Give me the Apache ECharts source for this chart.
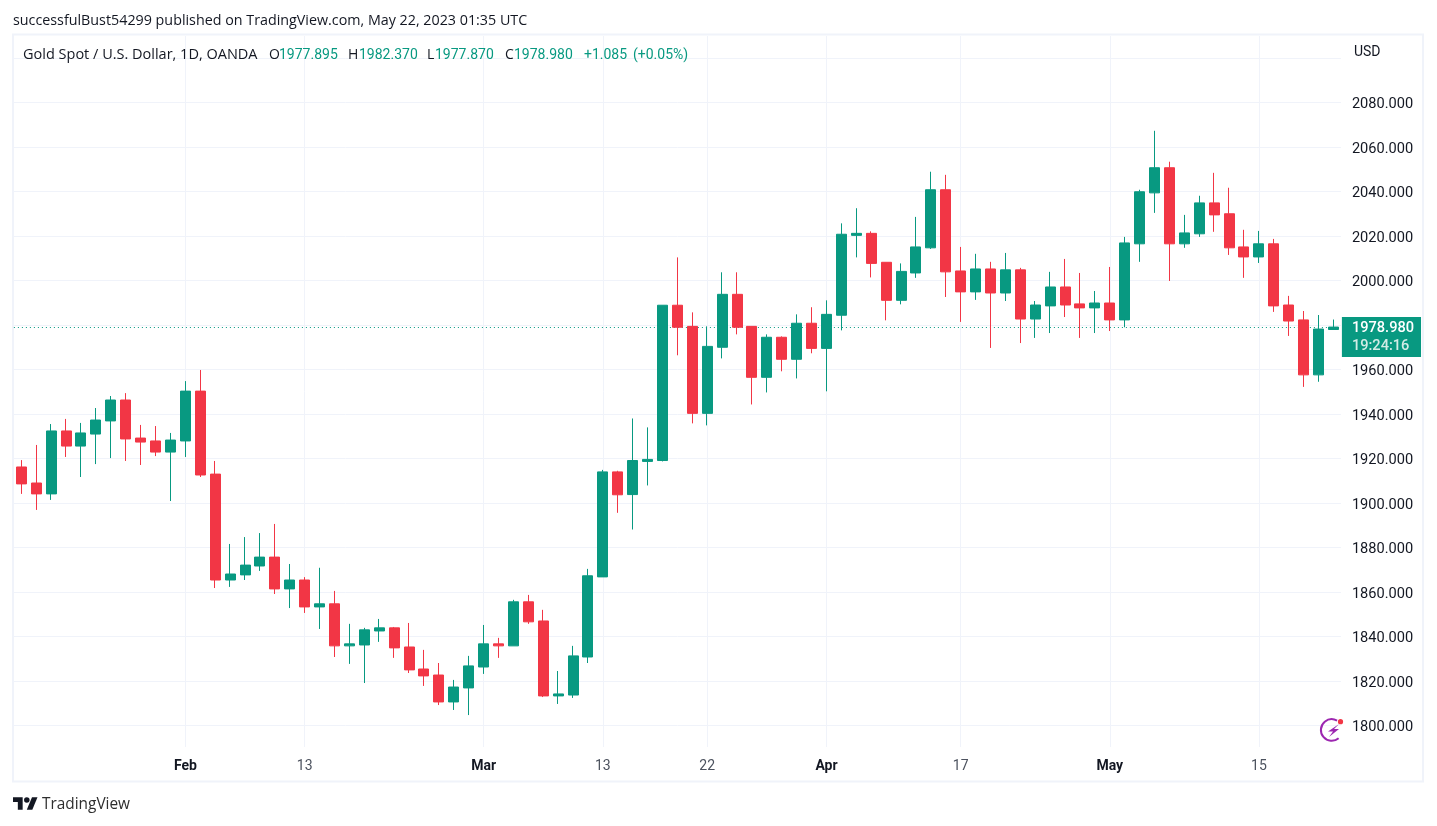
<!DOCTYPE html>
<html><head><meta charset="utf-8">
<style>html,body{margin:0;padding:0;background:#fff}#c{width:1437px;height:826px}</style>
<script src="https://cdn.jsdelivr.net/npm/echarts@6/dist/echarts.min.js"></script>
</head><body><div id="c"></div>
<script>
const categories = ['2023-01-17','2023-01-18','2023-01-19','2023-01-20','2023-01-23','2023-01-24','2023-01-25','2023-01-26','2023-01-27','2023-01-30','2023-01-31','2023-02-01','2023-02-02','2023-02-03','2023-02-06','2023-02-07','2023-02-08','2023-02-09','2023-02-10','2023-02-13','2023-02-14','2023-02-15','2023-02-16','2023-02-17','2023-02-20','2023-02-21','2023-02-22','2023-02-23','2023-02-24','2023-02-27','2023-02-28','2023-03-01','2023-03-02','2023-03-03','2023-03-06','2023-03-07','2023-03-08','2023-03-09','2023-03-10','2023-03-13','2023-03-14','2023-03-15','2023-03-16','2023-03-17','2023-03-20','2023-03-21','2023-03-22','2023-03-23','2023-03-24','2023-03-27','2023-03-28','2023-03-29','2023-03-30','2023-03-31','2023-04-03','2023-04-04','2023-04-05','2023-04-06','2023-04-10','2023-04-11','2023-04-12','2023-04-13','2023-04-14','2023-04-17','2023-04-18','2023-04-19','2023-04-20','2023-04-21','2023-04-24','2023-04-25','2023-04-26','2023-04-27','2023-04-28','2023-05-01','2023-05-02','2023-05-03','2023-05-04','2023-05-05','2023-05-08','2023-05-09','2023-05-10','2023-05-11','2023-05-12','2023-05-15','2023-05-16','2023-05-17','2023-05-18','2023-05-19','2023-05-22'];
const opens = [1916.1,1908.9,1904.0,1932.3,1925.5,1930.9,1936.8,1946.2,1929.1,1927.8,1922.8,1927.8,1950.2,1912.9,1865.3,1867.6,1871.6,1875.6,1861.3,1865.3,1853.2,1854.6,1835.7,1836.1,1842.4,1843.8,1835.2,1825.3,1822.6,1810.5,1816.8,1826.2,1836.6,1835.7,1855.5,1846.9,1813.2,1813.6,1830.7,1866.7,1913.9,1903.7,1918.6,1919.0,1988.8,1979.3,1940.2,1969.9,1993.7,1979.3,1956.4,1974.4,1964.5,1980.7,1969.4,1984.3,2020.2,2021.1,2008.1,1991.0,2003.3,2014.6,2040.7,2004.2,1994.8,2005.1,1994.3,2004.7,1982.6,1988.5,1997.0,1989.4,1987.6,1989.8,1982.2,2016.4,2039.3,2050.6,2016.4,2020.9,2034.8,2029.9,2015.0,2010.5,2016.4,1988.9,1982.2,1957.5,1977.895];
const closes = [1908.5,1904.0,1932.3,1925.5,1931.4,1937.2,1946.2,1928.7,1927.3,1922.8,1928.2,1950.2,1912.5,1865.3,1868.0,1872.0,1875.6,1861.3,1865.3,1853.2,1854.6,1835.7,1836.6,1842.9,1843.8,1834.8,1824.9,1822.2,1810.5,1817.2,1826.7,1836.6,1835.7,1855.5,1846.5,1813.2,1814.1,1831.2,1867.2,1913.9,1903.6,1919.0,1919.5,1988.8,1978.9,1940.2,1970.3,1993.7,1978.9,1956.4,1974.4,1964.5,1980.7,1969.4,1984.7,2020.7,2021.1,2007.6,1991.0,2004.0,2015.0,2040.7,2003.8,1994.8,2005.1,1994.3,2004.7,1982.6,1988.9,1997.0,1988.9,1987.6,1989.8,1982.2,2016.8,2039.8,2050.6,2016.4,2021.3,2034.8,2029.4,2014.6,2010.5,2016.4,1988.5,1981.7,1957.5,1978.1,1978.98];
const highs = [1919.2,1926.0,1935.4,1937.7,1935.9,1942.6,1948.0,1949.3,1935.0,1934.5,1931.4,1954.7,1959.7,1918.8,1881.5,1884.6,1886.4,1890.5,1872.5,1866.6,1870.8,1860.4,1845.6,1843.8,1847.8,1844.2,1846.0,1833.9,1828.0,1820.4,1831.2,1845.1,1839.3,1856.4,1858.6,1851.9,1824.4,1835.7,1870.3,1914.8,1914.4,1937.9,1933.9,1988.8,2010.3,1985.6,1979.3,2003.6,2003.6,1979.3,1975.7,1974.8,1984.7,1987.9,1991.0,2025.6,2032.4,2022.0,2008.1,2007.6,2028.5,2048.8,2047.4,2015.0,2011.9,2008.3,2012.3,2005.6,1990.7,2003.8,2009.6,2003.3,1995.2,2006.0,2019.5,2040.7,2067.2,2053.3,2029.4,2038.0,2048.3,2041.6,2022.7,2022.2,2018.6,1993.0,1986.2,1984.4,1982.37];
const lows = [1904.0,1896.8,1901.3,1920.6,1911.6,1917.4,1920.1,1918.8,1917.0,1921.0,1900.8,1920.6,1911.6,1861.7,1862.2,1865.3,1869.4,1859.0,1852.7,1850.5,1843.3,1830.7,1827.6,1819.0,1837.5,1830.3,1823.5,1817.7,1809.1,1806.9,1804.6,1823.1,1830.3,1835.7,1845.6,1812.7,1809.6,1812.3,1828.0,1866.7,1895.5,1888.0,1907.8,1918.6,1966.3,1935.7,1934.8,1964.9,1975.7,1944.2,1949.6,1959.1,1955.9,1967.2,1950.1,1977.5,2010.3,2001.3,1982.0,1989.2,2001.1,2014.1,1992.5,1981.3,1991.2,1969.6,1990.7,1971.8,1974.1,1976.3,1983.5,1974.1,1976.3,1977.2,1978.9,2008.3,2030.3,1999.7,2014.6,2019.5,2021.8,2011.4,2001.1,2007.8,1985.8,1975.0,1952.1,1954.4,1977.87];
const tickDates = ['2023-02-01','2023-02-13','2023-03-01','2023-03-13','2023-03-22','2023-04-03','2023-04-17','2023-05-01','2023-05-15'];
const tickTexts = ['Feb','13','Mar','13','22','Apr','17','May','15'];
const lastPrice = 1978.98;
const countdown = '19:24:16';
const publishedLine = 'successfulBust54299 published on TradingView.com, May 22, 2023 01:35 UTC';

const UP = '#089981', DOWN = '#f23645', GRID = '#f0f3fa', INK = '#131722';
const FONT = 'Roboto, sans-serif';
const TFONT = '"Open Sans", sans-serif';
const isTick = (v) => tickDates.indexOf(v) >= 0;

const legend = [
  ['Gold Spot / U.S. Dollar, 1D, OANDA', 23, INK, '14.5px '+TFONT],
  ['O', 269, INK, '14px '+TFONT], ['1977.895', 279, UP, '14px '+FONT],
  ['H', 348, INK, '14px '+TFONT], ['1982.370', 359, UP, '14px '+FONT],
  ['L', 427, INK, '14px '+TFONT], ['1977.870', 435, UP, '14px '+FONT],
  ['C', 505, INK, '14px '+TFONT], ['1978.980', 514, UP, '14px '+FONT],
  ['+1.085', 584, UP, '14px '+FONT], ['(+0.05%)', 633, UP, '14px '+FONT]
];

const chart = echarts.init(document.getElementById('c'), null, {renderer:'canvas'});
chart.setOption({
  animation:false,
  backgroundColor:'#ffffff',
  textStyle:{fontFamily:FONT},
  grid:{left:13.9,top:36,width:1327,height:711,containLabel:false},
  xAxis:{
    type:'category', data:categories, boundaryGap:true,
    axisLine:{show:false}, axisTick:{show:false},
    splitLine:{show:true,alignWithLabel:true,interval:(i,v)=>isTick(v),lineStyle:{color:GRID,width:1}},
    axisLabel:{
      interval:(i,v)=>isTick(v), margin:12, fontSize:14, color:'#4c525e', fontFamily:FONT,
      formatter:(v)=>{const t=tickTexts[tickDates.indexOf(v)]; return /[a-z]/i.test(t)?'{b|'+t+'}':t;},
      rich:{b:{fontWeight:'bold',fontSize:14,color:INK,fontFamily:FONT}}
    }
  },
  yAxis:{
    type:'value', position:'right', min:1790.25, max:2109.8, splitNumber:16, scale:true,
    name:'USD', nameLocation:'end', nameGap:-23,
    nameTextStyle:{color:INK,fontSize:14,align:'left',padding:[0,0,0,13],fontFamily:FONT},
    axisLine:{show:false}, axisTick:{show:false},
    splitLine:{show:true,showMinLine:false,showMaxLine:false,lineStyle:{color:GRID,width:1}},
    axisLabel:{margin:11,showMinLabel:false,showMaxLabel:false,
      rich:{p:{fontSize:14.6,color:INK,fontFamily:FONT,padding:[5,0,0,0]}},
      formatter:(v)=>v>=2100?'':'{p|'+v.toFixed(3)+'}'}
  },
  series:[{
    type:'candlestick', barWidth:10.5, z:3,
    itemStyle:{color:UP,color0:DOWN,borderColor:UP,borderColor0:DOWN,borderWidth:1},
    data:categories.map((c,i)=>[opens[i],closes[i],lows[i],highs[i]]),
    markLine:{
      silent:true, symbol:'none', z:1, animation:false,
      lineStyle:{color:UP,type:[1,3],width:1},
      label:{show:true,position:'end',distance:0,align:'left',verticalAlign:'top',
        offset:[1,-10],
        formatter:'{a|'+lastPrice.toFixed(3)+'}\n{b|'+countdown+'}',
        backgroundColor:UP,padding:[2,7,2,10],
        rich:{a:{color:'#ffffff',fontSize:14.6,fontWeight:500,lineHeight:18,fontFamily:FONT},b:{color:'#d3ece6',fontSize:14.6,fontWeight:500,lineHeight:18,fontFamily:FONT}}},
      data:[{yAxis:lastPrice}]
    }
  }],
  graphic:[
    {type:'rect',z:-1,silent:true,shape:{x:13,y:34.5,width:1410,height:747},style:{fill:'none',stroke:GRID,lineWidth:2}},
    {type:'text',x:13,y:21,z:10,style:{text:publishedLine,fill:INK,font:'14.3px '+TFONT,textVerticalAlign:'middle'}},
    ...legend.map(([t,x,c,f])=>({type:'text',x:x,y:55,z:10,style:{text:t,fill:c,font:f,textVerticalAlign:'middle'}})),
    {type:'group',x:13,y:794.5,scaleX:0.69,scaleY:0.69,children:[
      {type:'polygon',shape:{points:[[0,4],[14,4],[14,22],[7,22],[7,11],[0,11]]},style:{fill:INK}},
      {type:'polygon',shape:{points:[[20,22],[27.5,4],[35.5,4],[28,22]]},style:{fill:INK}},
      {type:'circle',shape:{cx:20,cy:8,r:4},style:{fill:INK}}
    ]},
    {type:'text',x:42,y:804.5,style:{text:'TradingView',fill:'#2e2e2e',font:'15.4px '+TFONT,textVerticalAlign:'middle'}},
    {type:'arc',z:10,shape:{cx:1331.7,cy:730,r:10.8,startAngle:50*Math.PI/180,endAngle:300*Math.PI/180,clockwise:true},style:{stroke:'#9c27b0',lineWidth:2,fill:'none'}},
    {type:'polygon',z:10,shape:{points:[[1339,724],[1328,731.5],[1333,731.5],[1329,737],[1339,729],[1334,729]]},style:{fill:'#9c27b0'}},
    {type:'circle',z:11,shape:{cx:1340.5,cy:721.7,r:2.6},style:{fill:DOWN}}
  ]
});
</script></body></html>
